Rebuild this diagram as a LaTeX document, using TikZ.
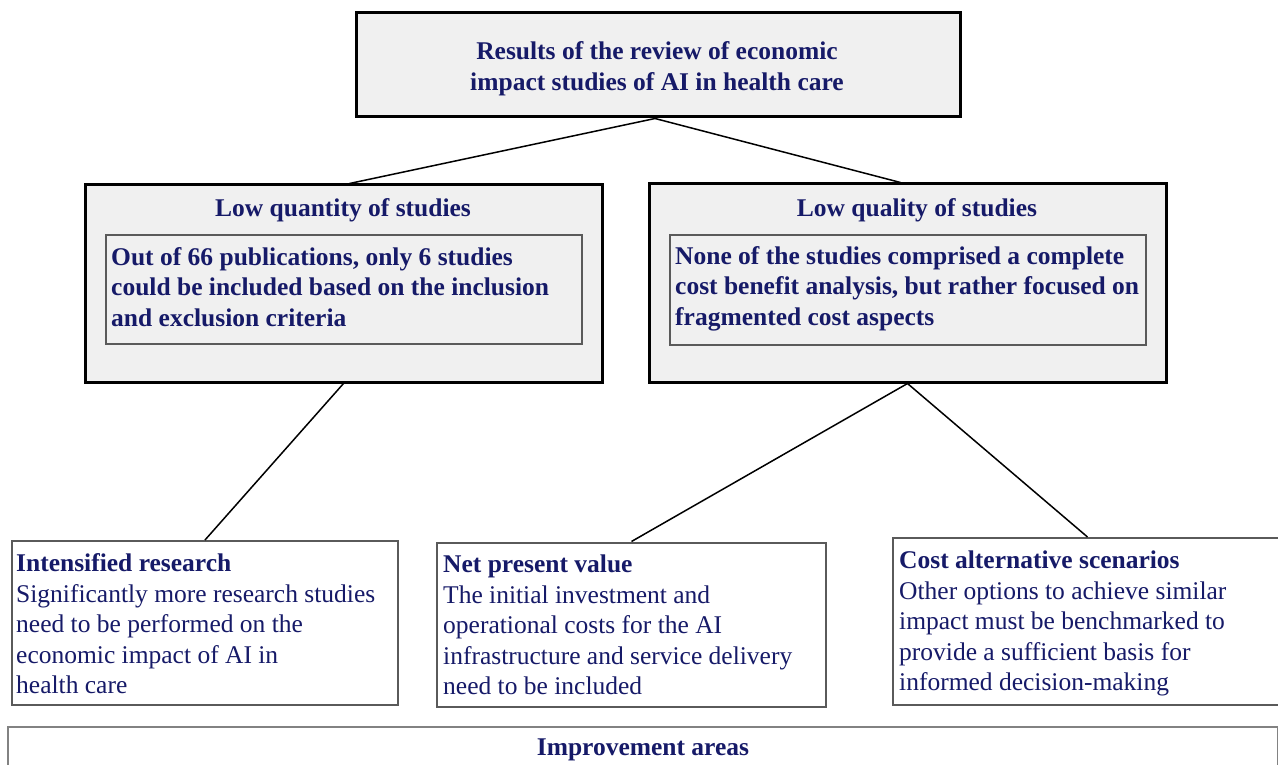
\documentclass[tikz,border=0pt]{standalone}
\usepackage{fontspec}
\setmainfont{Liberation Serif}
\definecolor{navy}{RGB}{22,26,104}
\definecolor{boxfill}{RGB}{240,240,240}
\definecolor{edgegray}{RGB}{90,90,90}
\definecolor{lightedge}{RGB}{130,130,130}
\begin{document}
\begin{tikzpicture}[x=1pt,y=-1pt,
  outerbox/.style={draw=black,line width=3pt,fill=boxfill,rectangle,inner sep=0pt},
  innerbox/.style={draw=edgegray,line width=2pt,fill=boxfill,rectangle,inner sep=0pt},
  leafbox/.style={draw=edgegray,line width=2pt,fill=white,rectangle,inner sep=0pt},
  basebox/.style={draw=lightedge,line width=1.2pt,fill=white,rectangle,inner sep=0pt},
  link/.style={draw=black,line width=1.5pt},
  txt/.style={text=navy,inner sep=0pt,font=\fontsize{25.5}{30.4}\selectfont},
  btxt/.style={txt,font=\fontsize{25.5}{30.4}\selectfont\bfseries}
]
\useasboundingbox (0,0) rectangle (1278,765);
\clip (0,0) rectangle (1278,765);
\fill[white] (0,0) rectangle (1278,765);

% boxes
\node[outerbox,minimum width=604pt,minimum height=104pt] (top) at (658,65) {};
\node[outerbox,minimum width=517pt,minimum height=197pt] (lq) at (343.5,283.5) {};
\node[innerbox,minimum width=476pt,minimum height=109pt] (lqin) at (344,289.5) {};
\node[outerbox,minimum width=517pt,minimum height=198pt] (rq) at (907.5,283) {};
\node[innerbox,minimum width=476pt,minimum height=110pt] (rqin) at (908,290) {};
\node[leafbox,minimum width=386pt,minimum height=164pt] (ir) at (205,623) {};
\node[leafbox,minimum width=389pt,minimum height=164pt] (npv) at (631.5,624.5) {};
\node[leafbox,minimum width=389pt,minimum height=167pt] (cas) at (1087.5,621.5) {};
\node[basebox,minimum width=1270pt,minimum height=80pt] (imp) at (643,767) {};

% connectors
\draw[link] ([xshift=-3pt]top.south) -- ([xshift=6pt]lq.north);
\draw[link] ([xshift=-3pt]top.south) -- ([xshift=-7pt]rq.north);
\draw[link] (lq.south) -- (ir.north);
\draw[link] (rq.south) -- (npv.north);
\draw[link] (rq.south) -- (cas.north);

% texts (base anchor of a multi-line node = baseline of its last line)
\node[btxt,anchor=base,align=center] (toptxt) at (657,90.4)
  {Results of the review of economic\\impact studies of AI in health care};
\node[btxt,anchor=base] (lqtitle) at (343,217) {Low quantity of studies};
\node[btxt,anchor=base] (rqtitle) at (917,216) {Low quality of studies};
\node[btxt,anchor=base west,align=left] (lqtxt) at (111,326)
  {Out of 66 publications, only 6 studies\\could be included based on the inclusion\\and exclusion criteria};
\node[btxt,anchor=base west,align=left] (rqtxt) at (675,325)
  {None of the studies comprised a complete\\cost benefit analysis, but rather focused on\\fragmented cost aspects};
\node[txt,anchor=base west,align=left] (irtxt) at (16,693.5)
  {\textbf{Intensified research}\\Significantly more research studies\\need to be performed on the\\economic impact of AI in\\health care};
\node[txt,anchor=base west,align=left] (npvtxt) at (443,694.5)
  {\textbf{Net present value}\\The initial investment and\\operational costs for the AI\\infrastructure and service delivery\\need to be included};
\node[txt,anchor=base west,align=left] (castxt) at (899,690.5)
  {\textbf{Cost alternative scenarios}\\Other options to achieve similar\\impact must be benchmarked to\\provide a sufficient basis for\\informed decision-making};
\node[btxt,anchor=base] (imptxt) at (643,755) {Improvement areas};
\end{tikzpicture}
\end{document}
